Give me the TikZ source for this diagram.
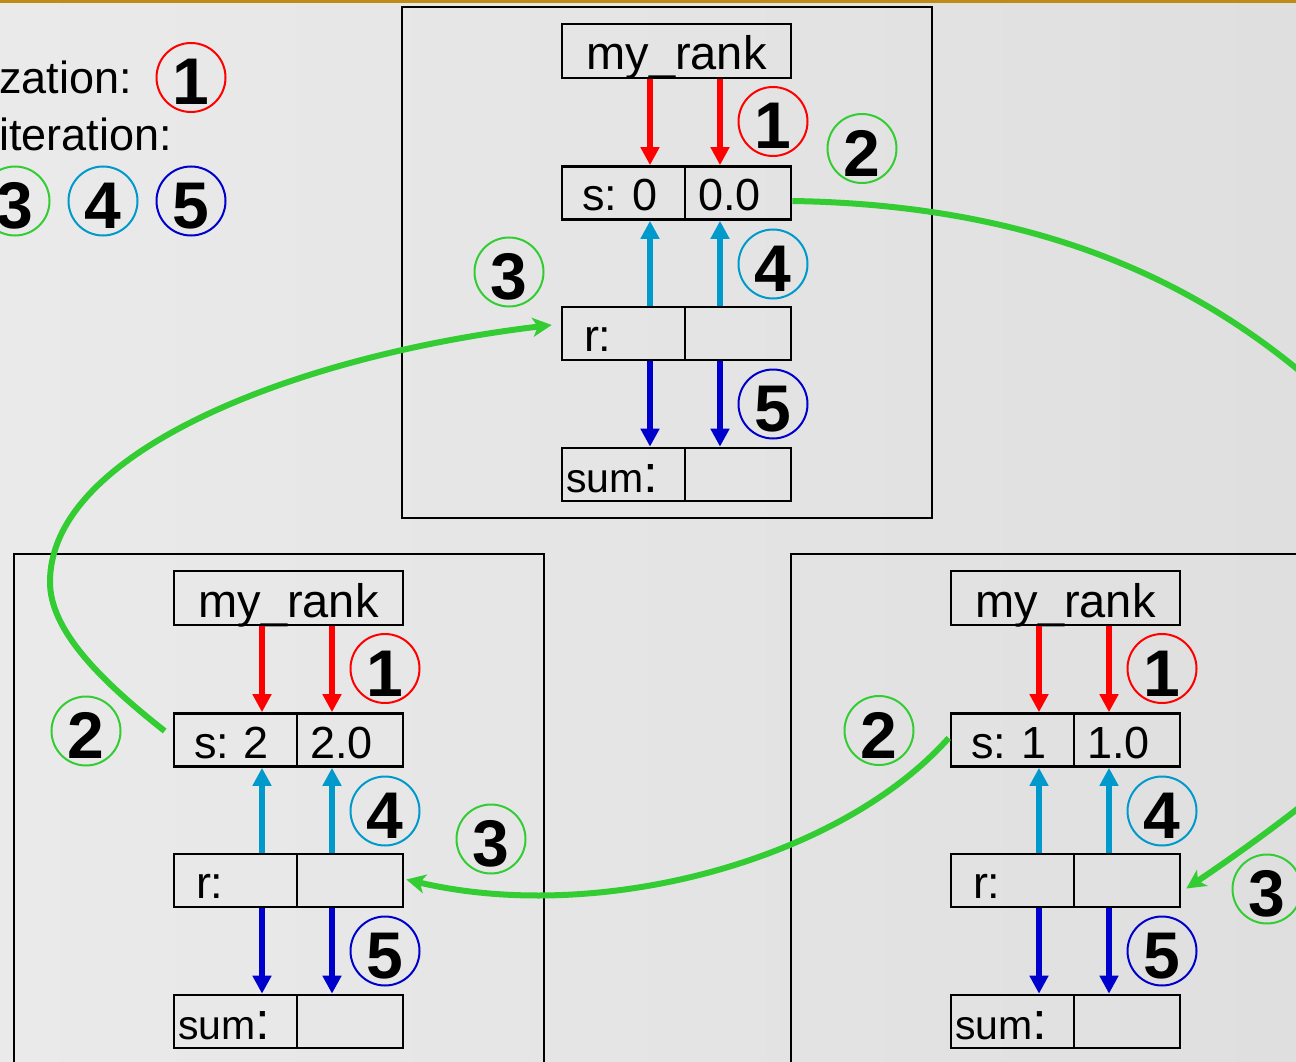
\documentclass[tikz,border=0pt]{standalone}
\usepackage{fontspec}
\setmainfont{Liberation Sans}
\usetikzlibrary{arrows.meta,calc}
\frenchspacing
\definecolor{bgL}{RGB}{234,234,234}
\definecolor{bgR}{RGB}{223,223,223}
\definecolor{goldbar}{RGB}{191,139,23}
\definecolor{cRed}{RGB}{255,0,0}
\definecolor{cGreen}{RGB}{51,204,51}
\definecolor{cLBlue}{RGB}{0,153,204}
\definecolor{cDBlue}{RGB}{0,0,204}
\newcommand\txtfont{\fontsize{45}{50}\selectfont\frenchspacing}
\newcommand\sumtext{{\fontsize{41}{41}\selectfont sum}{\fontsize{53}{53}\selectfont :}}
\tikzset{
  procframe/.style={draw=black, line width=2pt, minimum width=530pt, minimum height=511pt, inner sep=0pt},
  cellbox/.style={draw=black, line width=2.6pt, inner ysep=0pt, text height=44.5pt, text depth=8.5pt, font=\txtfont},
  rankcell/.style={cellbox, text width=229pt, inner xsep=0pt, align=center, text height=46pt, text depth=8pt, font=\fontsize{47}{50}\selectfont},
  lcell/.style 2 args={cellbox, inner xsep=#1, text width=#2, align=left},
  vred/.style={draw=cRed, line width=5.5pt, -{Triangle[length=18pt,width=18pt]}},
  vlblue/.style={draw=cLBlue, line width=5.5pt, -{Triangle[length=18pt,width=18pt]}},
  vdblue/.style={draw=cDBlue, line width=5.5pt, -{Triangle[length=18pt,width=18pt]}},
  gcurve/.style={draw=cGreen, line width=6pt},
  garrow/.style={gcurve, -{Stealth[length=19pt,width=19pt,inset=5pt]}},
  numc/.style={circle, draw=#1, line width=2pt, minimum size=69pt, inner sep=0pt, text height=55pt, text depth=0pt, font=\fontsize{66}{66}\selectfont\bfseries},
  legtext/.style={anchor=base west, inner sep=0pt, font=\txtfont}
}
\newcommand\procblock[5]{%
  \node[procframe] (#1frame) at ({#2+265},{#3+255.5}) {};
  \node[rankcell] (#1rank) at ({#2+274.5},{#3+44}) {my\_rank};
  \node[lcell={20pt}{83pt}] (#1sL) at ({#2+221.5},{#3+186}) {#4};
  \node[lcell={13pt}{80pt}] (#1sR) at ({#2+336},{#3+186}) {#5};
  \node[lcell={22pt}{79pt}] (#1rL) at ({#2+221.5},{#3+326.5}) {r:};
  \node[lcell={13pt}{80pt}] (#1rR) at ({#2+336},{#3+326.5}) {};
  \node[lcell={4pt}{115pt}] (#1mL) at ({#2+221.5},{#3+467.5}) {\sumtext};
  \node[lcell={13pt}{80pt}] (#1mR) at ({#2+336},{#3+467.5}) {};
  \coordinate (#1xL) at ({#2+248},{#3});
  \coordinate (#1xR) at ({#2+318},{#3});
  \draw[vred] (#1rank.south -| #1xL) -- (#1sL.north -| #1xL);
  \draw[vred] (#1rank.south -| #1xR) -- (#1sR.north -| #1xR);
  \draw[vlblue] (#1rL.north -| #1xL) -- (#1sL.south -| #1xL);
  \draw[vlblue] (#1rR.north -| #1xR) -- (#1sR.south -| #1xR);
  \draw[vdblue] (#1rL.south -| #1xL) -- (#1mL.north -| #1xL);
  \draw[vdblue] (#1rR.south -| #1xR) -- (#1mR.north -| #1xR);
  \node[numc=cRed] (#1n1) at ({#2+371},{#3+114.5}) {1};
  \node[numc=cLBlue] (#1n4) at ({#2+371},{#3+257}) {4};
  \node[numc=cDBlue] (#1n5) at ({#2+371},{#3+397}) {5};
}
\begin{document}
\begin{tikzpicture}[x=1pt,y=-1pt]
  \useasboundingbox (0,0) rectangle (1296,1062);
  \clip (0,0) rectangle (1296,1062);
  \shade[left color=bgL, right color=bgR] (0,0) rectangle (1296,1062);
  \fill[goldbar] (0,0) rectangle (1296,3);

  % blocks: p0 = top, p1 = bottom right, p2 = bottom left
  \procblock{p0}{402}{7}{s: 0}{0.0}
  \procblock{p1}{791}{554}{s: 1}{1.0}
  \procblock{p2}{14}{554}{s: 2}{2.0}

  % green messages
  \draw[garrow] ($(p0sR.east)+(0,8)$) .. controls (1050,205) and (1200,290) .. (1296,368)
     .. controls (1420,469) and (1440,700) .. (1296,810)
     .. controls (1260,838) and (1220,866) .. ($(p1rR.east)+(5,8)$);
  \draw[garrow] ($(p1sL.west)+(-1,-2)$) .. controls (840,860) and (600,925) .. ($(p2rR.east)+(2,-1)$);
  \draw[garrow] ($(p2sL.west)+(-8,-9)$) .. controls (100,680) and (50,630) .. (50,582)
     .. controls (50,450) and (300,355) .. ($(p0rL.west)+(-9,-8.5)$);

  % extra circled numbers
  \node[numc=cGreen] (p0n2) at (862,148.5) {2};
  \node[numc=cGreen] (p0n3) at (509,272) {3};
  \node[numc=cGreen] (p1n2) at (879,730.5) {2};
  \node[numc=cGreen] (p1n3) at (1267,889) {3};
  \node[numc=cGreen] (p2n2) at (86,731) {2};
  \node[numc=cGreen] (p2n3) at (491,839) {3};

  % legend
  \node[legtext] (legA) at (-1,93.5) {zation:};
  \node[numc=cRed] (legn1) at (191,77.5) {1};
  \node[legtext] (legB) at (-1,150) {iteration:};
  \node[numc=cGreen] (legn3) at (15,201) {3};
  \node[numc=cLBlue] (legn4) at (103,201) {4};
  \node[numc=cDBlue] (legn5) at (191,201) {5};
\end{tikzpicture}
\end{document}
